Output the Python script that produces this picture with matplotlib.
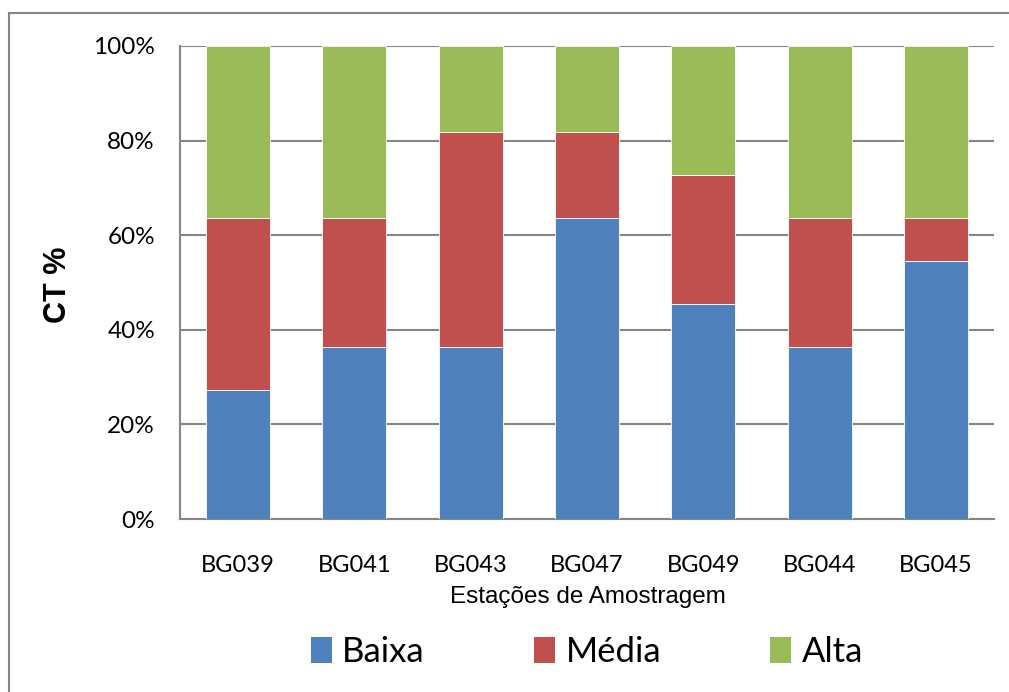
import matplotlib
matplotlib.use("Agg")
import matplotlib.pyplot as plt
from matplotlib.lines import Line2D
from matplotlib.patches import Patch
from matplotlib.ticker import FuncFormatter

# Station percentages by CT class
stations = ["BG039", "BG041", "BG043", "BG047", "BG049", "BG044", "BG045"]
baixa = [27.3, 36.4, 36.4, 63.6, 45.5, 36.4, 54.5]
media = [36.4, 27.3, 45.5, 18.2, 27.3, 27.3, 9.1]
alta = [36.4, 36.4, 18.2, 18.2, 27.3, 36.4, 36.4]
series_names = ["Baixa", "Média", "Alta"]
yticks = [0, 20, 40, 60, 80, 100]

colors = ["#4F81BD", "#C0504D", "#9BBB59"]
grid_gray = "#868686"

W, H = 1009, 692
fig = plt.figure(figsize=(W / 100, H / 100), dpi=100)

# chart area border (top and left edges)
fx, fy = 8.5 / W, 1 - 12.5 / H
fig.add_artist(Line2D([fx, 1], [fy, fy], transform=fig.transFigure,
                      color=grid_gray, linewidth=1.5))
fig.add_artist(Line2D([fx, fx], [0, fy], transform=fig.transFigure,
                      color=grid_gray, linewidth=1.5))

left, right, top, bottom = 180, 994, 46, 519
ax = fig.add_axes([left / W, 1 - bottom / H, (right - left) / W, (bottom - top) / H])

x = range(len(stations))
bw = 0.55
bottoms2 = [b + m for b, m in zip(baixa, media)]
ax.bar(x, baixa, bw, color=colors[0], edgecolor="white", linewidth=0.6, zorder=3)
ax.bar(x, media, bw, bottom=baixa, color=colors[1], edgecolor="white", linewidth=0.6, zorder=3)
ax.bar(x, alta, bw, bottom=bottoms2, color=colors[2], edgecolor="white", linewidth=0.6, zorder=3)

ax.set_xlim(-0.5, len(stations) - 0.5)
ax.set_ylim(0, 100)
ax.set_yticks(yticks)
ax.yaxis.set_major_formatter(FuncFormatter(lambda v, p: f"{int(v)}%"))
ax.set_xticks(list(x))
ax.set_xticklabels(stations)

for lab in ax.get_yticklabels():
    lab.set_fontfamily("Lato")
    lab.set_fontsize(17.5)
for lab in ax.get_xticklabels():
    lab.set_fontfamily("Lato")
    lab.set_fontsize(17)

ax.tick_params(axis="y", length=0, pad=18)
ax.tick_params(axis="x", length=0, pad=26)

ax.grid(axis="y", color=grid_gray, linewidth=1.5, zorder=0)
ax.set_axisbelow(True)
for s in ["top", "right"]:
    ax.spines[s].set_visible(False)
for s in ["left", "bottom"]:
    ax.spines[s].set_color(grid_gray)
    ax.spines[s].set_linewidth(1.5)

fig.text(588 / W, 1 - 597 / H, "Estações de Amostragem", ha="center", va="center",
         fontsize=17.5, family="Liberation Sans")
fig.text(58 / W, 1 - 285 / H, "CT %", ha="center", va="center", rotation=90,
         fontsize=22, fontweight="bold", family="Liberation Sans")

handles = [Patch(facecolor=c, edgecolor="none") for c in colors]
fig.legend(handles, series_names, loc="center", bbox_to_anchor=(587 / W, 1 - 652 / H),
           ncol=3, frameon=False, prop={"family": "Lato", "size": 25},
           handlelength=0.6, handleheight=0.8, handletextpad=0.3, columnspacing=3.15)

fig.savefig("out.png", dpi=100)
